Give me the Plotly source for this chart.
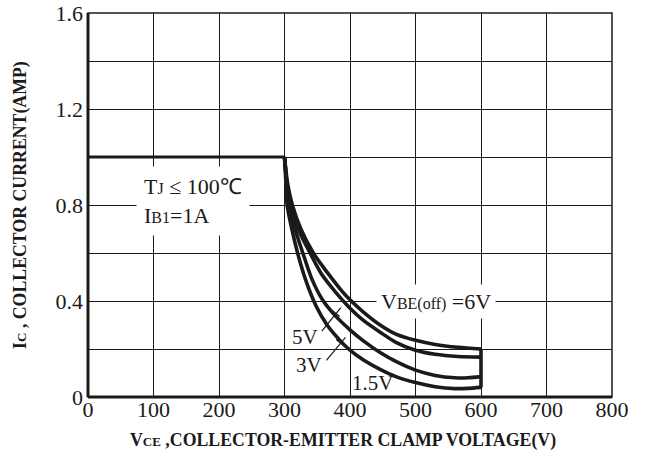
import plotly.graph_objects as go

# ---------------- data ----------------
flat_v = [0, 300]
flat_i = [1.0, 1.0]

v_6v = [300, 305, 312, 325, 344, 365, 388, 400, 420, 446, 470, 500, 530, 565, 600]
i_6v = [1.0, 0.885, 0.80, 0.70, 0.60, 0.52, 0.44, 0.405, 0.355, 0.30, 0.262, 0.236, 0.219, 0.207, 0.200]

v_5v = [300, 304, 309, 321, 339, 357, 377, 400, 420, 446, 470, 500, 530, 565, 600]
i_5v = [1.0, 0.88, 0.80, 0.70, 0.60, 0.51, 0.44, 0.37, 0.32, 0.27, 0.228, 0.195, 0.178, 0.169, 0.166]

v_3v = [300, 303, 306, 316, 328, 342, 358, 377, 400, 420, 446, 470, 500, 530, 560, 580, 600]
i_3v = [1.0, 0.90, 0.80, 0.70, 0.60, 0.49, 0.405, 0.34, 0.28, 0.235, 0.185, 0.148, 0.112, 0.09, 0.08, 0.08, 0.085]

v_15v = [300, 302, 304, 312, 320, 332, 348, 365, 385, 400, 420, 446, 470, 500, 530, 560, 580, 600]
i_15v = [1.0, 0.90, 0.80, 0.69, 0.60, 0.49, 0.38, 0.30, 0.235, 0.195, 0.155, 0.115, 0.085, 0.06, 0.043, 0.035, 0.036, 0.04]

x_ticks = [0, 100, 200, 300, 400, 500, 600, 700, 800]
x_tick_labels = ["0", "100", "200", "300", "400", "500", "600", "700", "800"]
y_ticks = [0, 0.2, 0.4, 0.6, 0.8, 1.0, 1.2, 1.4, 1.6]
y_tick_labels = ["0", "", "0.4", "", "0.8", "", "1.2", "", "1.6"]

# label anchor positions (data units)
lbl_6v = (531, 0.398)
lbl_5v = (331, 0.248)
lbl_3v = (338, 0.132)
lbl_15v = (434, 0.058)
lbl_tj = (161, 0.815)
arrow_5v = [(357, 0.274), (386, 0.372), (378, 0.349)]   # start, end, tick centre
arrow_3v = [(364, 0.153), (393, 0.248), (385, 0.226)]

INK = "#1a1a1a"
SERIF = "Liberation Serif, Times New Roman, serif"

fig = go.Figure()

fig.add_trace(go.Scatter(x=flat_v, y=flat_i, mode="lines",
                         line=dict(color=INK, width=3), hoverinfo="skip"))
for vv, ii in [(v_6v, i_6v), (v_5v, i_5v), (v_3v, i_3v), (v_15v, i_15v)]:
    fig.add_trace(go.Scatter(x=vv, y=ii, mode="lines",
                             line=dict(color=INK, width=3.6, shape="spline", smoothing=0.8),
                             hoverinfo="skip"))
ends = [i_6v[-1], i_5v[-1], i_3v[-1], i_15v[-1]]
fig.add_trace(go.Scatter(x=[v_6v[-1], v_6v[-1]], y=[min(ends), max(ends)], mode="lines",
                         line=dict(color=INK, width=3.6), hoverinfo="skip"))

# arrows with cross ticks
pxv = 800 / 524.0   # V per px
pxi = 1.6 / 384.0   # A per px
for (s, e, t) in [arrow_5v, arrow_3v]:
    fig.add_shape(type="line", x0=s[0], y0=s[1], x1=e[0], y1=e[1], xref="x", yref="y",
                  line=dict(color=INK, width=1.2))
    fig.add_shape(type="line", x0=t[0] - 4 * pxv, y0=t[1] + 3.2 * pxi,
                  x1=t[0] + 4 * pxv, y1=t[1] - 3.2 * pxi, xref="x", yref="y",
                  line=dict(color=INK, width=1.4))

small = "font-size:16px"
fig.add_annotation(x=lbl_6v[0], y=lbl_6v[1], xref="x", yref="y", showarrow=False,
                   text=f"V<span style='{small}'>BE(off)</span> =6V",
                   font=dict(family=SERIF, size=22, color=INK),
                   bgcolor="white", borderpad=4)
fig.add_annotation(x=lbl_tj[0], y=lbl_tj[1], xref="x", yref="y", showarrow=False,
                   text=f"T<span style='{small}'>J</span> ≤ 100℃<br>I<span style='{small}'>B1</span>=1A",
                   align="left", font=dict(family=SERIF, size=22, color=INK),
                   bgcolor="white", borderpad=7)
for (p, t) in [(lbl_5v, "5V"), (lbl_3v, "3V"), (lbl_15v, "1.5V")]:
    fig.add_annotation(x=p[0], y=p[1], xref="x", yref="y", showarrow=False, text=t,
                       font=dict(family=SERIF, size=21, color=INK))

# axis titles
fig.add_annotation(x=0.487, y=-0.112, xref="paper", yref="paper", showarrow=False,
                   yanchor="middle",
                   text="<b>V<span style='font-size:13px'>CE</span> ,COLLECTOR-EMITTER CLAMP VOLTAGE(V)</b>",
                   font=dict(family=SERIF, size=17.8, color=INK))
fig.add_annotation(x=-0.13, y=0.5, xref="paper", yref="paper", showarrow=False,
                   textangle=-90, xanchor="center",
                   text="<b>I<span style='font-size:13px'>C</span> , COLLECTOR CURRENT(AMP)</b>",
                   font=dict(family=SERIF, size=17.8, color=INK))

# frame: thin top/right, thick left/bottom
fig.add_shape(type="rect", x0=0, y0=0, x1=1, y1=1, xref="paper", yref="paper",
              line=dict(color=INK, width=1.5), layer="above")
fig.add_shape(type="line", x0=0, y0=0, x1=0, y1=1, xref="paper", yref="paper",
              line=dict(color=INK, width=3), layer="above")
fig.add_shape(type="line", x0=0, y0=0, x1=1, y1=0, xref="paper", yref="paper",
              line=dict(color=INK, width=3), layer="above")

fig.update_xaxes(range=[0, 800], tickvals=x_ticks, ticktext=x_tick_labels,
                 showgrid=True, gridcolor=INK, gridwidth=1.2, zeroline=False,
                 showline=False, ticks="", ticklabelstandoff=-3, automargin=False,
                 tickfont=dict(family=SERIF, size=22, color=INK), fixedrange=True)
fig.update_yaxes(range=[0, 1.6], tickvals=y_ticks, ticktext=y_tick_labels,
                 showgrid=True, gridcolor=INK, gridwidth=1.2, zeroline=False,
                 showline=False, ticks="", ticklabelstandoff=4, automargin=False,
                 tickfont=dict(family=SERIF, size=22, color=INK), fixedrange=True)

fig.update_layout(width=645, height=470, margin=dict(l=88, r=33, t=13, b=73),
                  paper_bgcolor="white", plot_bgcolor="white", showlegend=False)

# remove the browser's default 8px body margin so the figure sits at the page origin
fig.write_html("out.html", config={"displayModeBar": False},
               post_script="document.body.style.margin='0px';")
